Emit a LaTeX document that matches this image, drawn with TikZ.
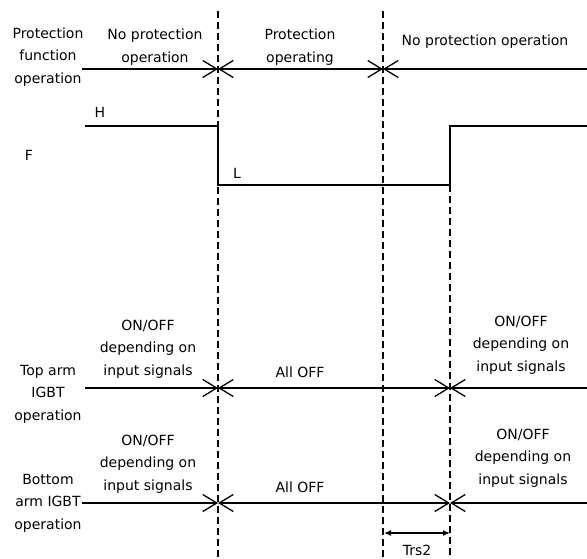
\documentclass[tikz,border=0pt]{standalone}
\usepackage{fontspec}
\setmainfont{DejaVu Sans}
\usetikzlibrary{arrows.meta}
\begin{document}
\begin{tikzpicture}[x=1pt,y=-1pt,
 lbl/.style={align=center,inner sep=0pt,font=\fontsize{14}{22.5}\selectfont},
 sig/.style={line width=1.3pt},
 guide/.style={line width=1.3pt,dash pattern=on 6.5pt off 4.5pt},
 bx/.style={line width=1.3pt,-{Straight Barb[length=14pt,width=17pt]}},
 bxx/.style={line width=1.3pt,{Straight Barb[length=14pt,width=17pt]}-{Straight Barb[length=14pt,width=17pt]}},
 xb/.style={line width=1.3pt,{Straight Barb[length=14pt,width=17pt]}-},
 dim/.style={line width=1.2pt,{Latex[length=7pt,width=6pt]}-{Latex[length=7pt,width=6pt]}}
]
\useasboundingbox (0,0) rectangle (587,558);
% guides
\coordinate (g1t) at (218,11); \coordinate (g1b) at (218,558);
\coordinate (g2t) at (383,11); \coordinate (g2b) at (383,558);
\coordinate (g3t) at (450,185); \coordinate (g3b) at (450,558);
\draw[guide] (g1t) -- (g1b);
\draw[guide] (g2t) -- (g2b);
\draw[guide] (g3t) -- (g3b);
% protection function row
\node[lbl] (pf) at (48,57) {Protection\\function\\operation};
\node[lbl] (np1) at (155,47) {No protection\\operation};
\node[lbl] (po) at (300,47) {Protection\\operating};
\node[lbl] (np2) at (485,42) {No protection operation};
\coordinate (p0) at (82,69); \coordinate (p1) at (218,69);
\coordinate (p2) at (383,69); \coordinate (p3) at (587,69);
\draw[bx] (p0) -- (p1);
\draw[bxx] (p1) -- (p2);
\draw[xb] (p2) -- (p3);
% F signal
\node[lbl] (hl) at (100,112) {H};
\node[lbl] (fl) at (29,155) {F};
\node[lbl] (ll) at (237,173) {L};
\coordinate (f0) at (85,126); \coordinate (f1) at (218,126);
\coordinate (f2) at (218,185); \coordinate (f3) at (450,185);
\coordinate (f4) at (450,126); \coordinate (f5) at (587,126);
\draw[sig] (f0) -- (f1) -- (f2) -- (f3) -- (f4) -- (f5);
% top arm
\node[lbl] (ta) at (48,394) {Top arm\\IGBT\\operation};
\node[lbl] (ton1) at (148,349) {ON/OFF\\depending on\\input signals};
\node[lbl] (toff) at (300,372) {All OFF};
\node[lbl] (ton2) at (521,345) {ON/OFF\\depending on\\input signals};
\coordinate (t0) at (85,388); \coordinate (t1) at (218,388);
\coordinate (t2) at (450,388); \coordinate (t3) at (587,388);
\draw[bx] (t0) -- (t1);
\draw[bxx] (t1) -- (t2);
\draw[xb] (t2) -- (t3);
% bottom arm
\node[lbl] (ba) at (48,503) {Bottom\\arm IGBT\\operation};
\node[lbl] (bon1) at (148,464) {ON/OFF\\depending on\\input signals};
\node[lbl] (boff) at (300,487) {All OFF};
\node[lbl] (bon2) at (523,458) {ON/OFF\\depending on\\input signals};
\coordinate (b1) at (218,503);
\coordinate (b2) at (450,503); \coordinate (b3) at (587,503);
\draw[bx] (ba.east |- b1) -- (b1);
\draw[bxx] (b1) -- (b2);
\draw[xb] (b2) -- (b3);
% Trs2
\coordinate (d1) at (384,533); \coordinate (d2) at (450,533);
\draw[dim] (d1) -- (d2);
\node[lbl] (trs) at (417,550) {Trs2};
\end{tikzpicture}
\end{document}
